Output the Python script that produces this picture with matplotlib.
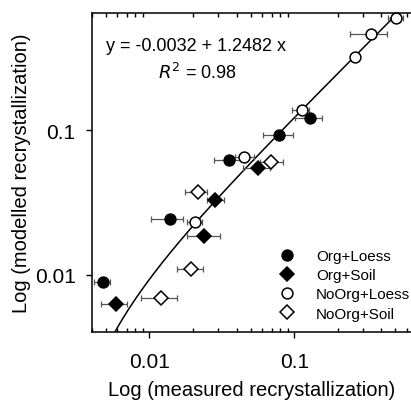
import numpy as np
import matplotlib
matplotlib.use("Agg")
import matplotlib.pyplot as plt
from matplotlib.ticker import LogLocator, NullFormatter, NullLocator

plt.rcParams['font.family'] = ['Liberation Sans', 'DejaVu Sans']

# measured (x), modelled (y), and horizontal error-bar extents
org_loess_x = [0.0048, 0.0138, 0.0355, 0.0788, 0.128]
org_loess_y = [0.0089, 0.0242, 0.062, 0.0923, 0.1205]
org_loess_lo = [0.00414, 0.0103, 0.0281, 0.0606, 0.101]
org_loess_hi = [0.00539, 0.0172, 0.0458, 0.0975, 0.156]

org_soil_x = [0.0059, 0.024, 0.0286, 0.0565]
org_soil_y = [0.00625, 0.01856, 0.0328, 0.0546]
org_soil_lo = [0.00465, 0.0182, 0.0252, 0.0443]
org_soil_hi = [0.00702, 0.0305, 0.0325, 0.068]

noorg_loess_x = [0.501, 0.341, 0.2647, 0.1135, 0.0453, 0.0205]
noorg_loess_y = [0.596, 0.461, 0.318, 0.138, 0.0653, 0.0233]
noorg_loess_lo = [0.4416, 0.2444, 0.258, 0.0969, 0.0391, 0.0182]
noorg_loess_hi = [0.5597, 0.4365, 0.272, 0.1268, 0.0528, 0.02305]

noorg_soil_x = [0.0691, 0.0216, 0.01946, 0.0121]
noorg_soil_y = [0.0598, 0.0374, 0.01104, 0.00695]
noorg_soil_lo = [0.058, 0.0177, 0.0155, 0.0088]
noorg_soil_hi = [0.084, 0.0249, 0.0234, 0.0155]

# regression: y = a + b x
fit_a = -0.0032
fit_b = 1.2482

tick_vals = [0.01, 0.1]
tick_labels = ["0.01", "0.1"]

fig = plt.figure(figsize=(4.11, 4.02), dpi=100)
ax = fig.add_axes([91.7 / 411, 68.7 / 402, (411 - 91.7) / 411, (333.3 - 14) / 402])
ax.set_xscale("log")
ax.set_yscale("log")
ax.set_xlim(0.004, 0.64)
ax.set_ylim(0.004, 0.645)

# fitted curve
xs = np.logspace(np.log10(0.0057), np.log10(0.53), 200)
ax.plot(xs, fit_a + fit_b * xs, color="black", lw=1.1, zorder=2)

series = [
    ("Org+Loess", org_loess_x, org_loess_y, org_loess_lo, org_loess_hi, "o", "black"),
    ("Org+Soil", org_soil_x, org_soil_y, org_soil_lo, org_soil_hi, "D", "black"),
    ("NoOrg+Loess", noorg_loess_x, noorg_loess_y, noorg_loess_lo, noorg_loess_hi, "o", "white"),
    ("NoOrg+Soil", noorg_soil_x, noorg_soil_y, noorg_soil_lo, noorg_soil_hi, "D", "white"),
]

handles = []
for label, x, y, lo, hi, m, fc in series:
    x = np.array(x)
    xerr = [x - np.array(lo), np.array(hi) - x]
    ax.errorbar(x, y, xerr=xerr, fmt="none", ecolor="#555555", elinewidth=0.9,
                capsize=2.5, capthick=0.9, zorder=3)
    ms = 7.8 if m == "o" else 6.8
    h, = ax.plot(x, y, linestyle="none", marker=m, markersize=ms,
                 markerfacecolor=fc, markeredgecolor="black", markeredgewidth=1.1,
                 zorder=4, clip_on=False, label=label)
    handles.append(h)

ax.legend(handles=handles, loc="upper left", bbox_to_anchor=(278 / 411, (402 - 250) / 402),
          bbox_transform=fig.transFigure, frameon=False, fontsize=11,
          handletextpad=1.3, labelspacing=0.34, handlelength=1.2,
          borderpad=0, borderaxespad=0)

ax.text(0.045, 0.8967, "y = -0.0032 + 1.2482 x", transform=ax.transAxes, fontsize=13,
        va="center", ha="left")
ax.text(0.33, 0.815, "$\\it{R}^2$ = 0.98", transform=ax.transAxes, fontsize=13,
        va="center", ha="center")

# axes styling
ax.spines["right"].set_visible(False)
for s in ["left", "bottom", "top"]:
    ax.spines[s].set_linewidth(1.1)

ax.set_xticks(tick_vals)
ax.set_xticklabels(tick_labels)
ax.set_yticks(tick_vals)
ax.set_yticklabels(tick_labels)
ax.xaxis.set_minor_locator(LogLocator(base=10, subs=np.arange(2, 10)))
ax.xaxis.set_minor_formatter(NullFormatter())
ax.yaxis.set_minor_locator(NullLocator())

ax.tick_params(axis="x", which="major", direction="out", length=4.5, width=1.0,
               labelsize=15, pad=10, top=False)
ax.tick_params(axis="x", which="minor", direction="in", length=3, width=1.0,
               bottom=True, top=True)
ax.tick_params(axis="y", which="major", direction="out", length=4.5, width=1.0,
               labelsize=15, pad=7, right=False)

ax.set_xlabel("Log (measured recrystallization)", fontsize=14.5, labelpad=6)
ax.set_ylabel("Log (modelled recrystallization)", fontsize=14.5, labelpad=3)

fig.savefig("out.png", dpi=100)
